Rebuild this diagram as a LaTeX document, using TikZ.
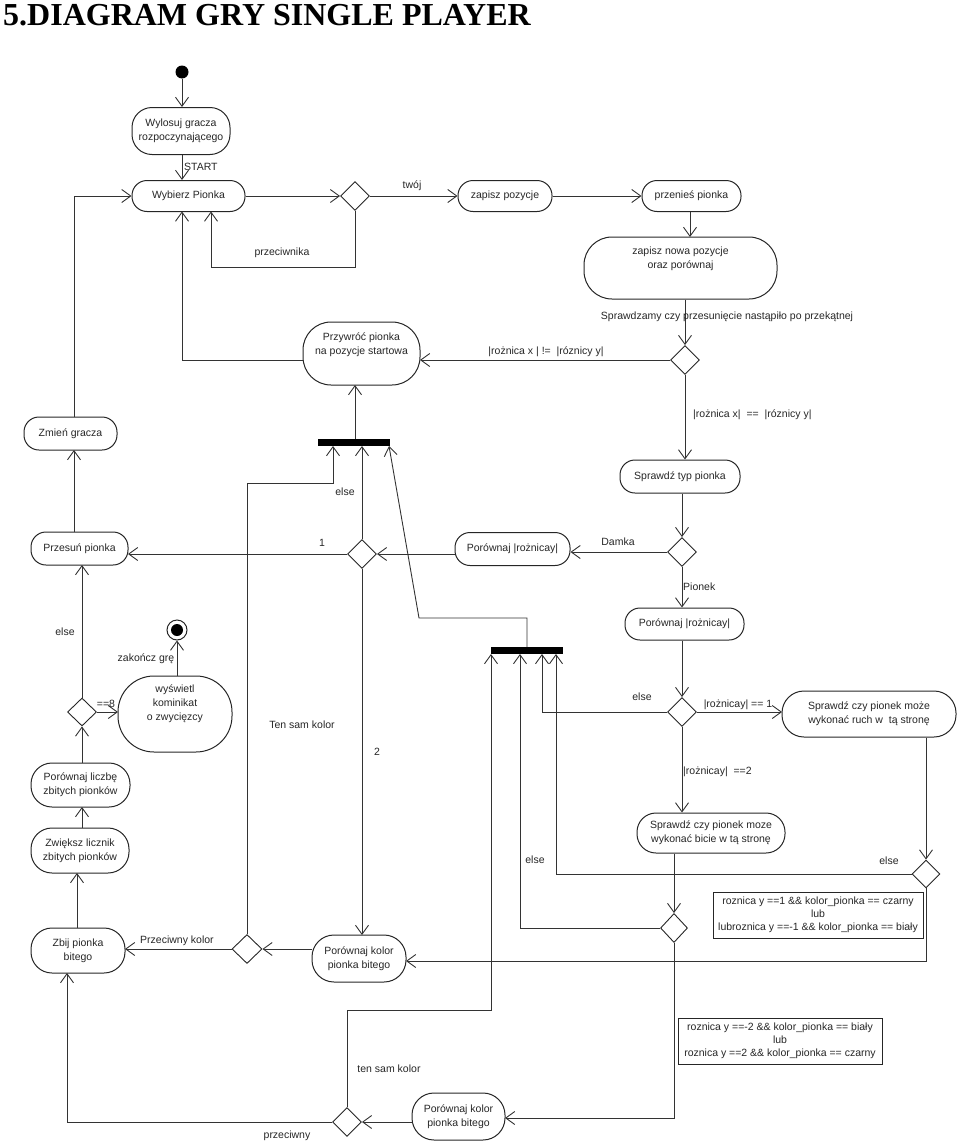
\documentclass[tikz,border=0pt]{standalone}
\usepackage{fontspec}
\setmainfont{Liberation Sans}
\newfontfamily\titlefont{Liberation Serif}
\usetikzlibrary{arrows.meta,shapes.geometric}
\begin{document}
\begin{tikzpicture}[x=1pt,y=-1pt,
  every node/.style={font=\fontsize{10.5}{14}\selectfont, text=black!85},
  act/.style={draw=black!85, line width=1pt, rounded corners=#1, inner sep=0pt, align=center},
  act/.default=15pt,
  dec/.style={draw=black!85, line width=0.9pt, diamond, inner sep=0pt, minimum width=29pt, minimum height=29pt},
  syncbar/.style={fill=black, draw=none, minimum width=72pt, minimum height=7pt, inner sep=0pt},
  lbl/.style={inner sep=1pt},
  note/.style={draw=black!85, line width=0.8pt, inner sep=1pt, align=center, font=\fontsize{10.5}{13}\selectfont},
  flow/.style={draw=black!80, line width=0.9pt},
  arr/.style={flow, -{Straight Barb[length=9pt,width=13pt]}},
]
\useasboundingbox (0,0) rectangle (960,1143);

% title
\node[anchor=base west, inner sep=0pt, text=black, font=\titlefont\bfseries\fontsize{32}{36}\selectfont] (title) at (3,25) {5.DIAGRAM GRY SINGLE PLAYER};

% activity nodes
\node[circle, fill=black, minimum size=13pt, inner sep=0pt] (start) at (182,72) {};
\node[act, minimum width=98pt, minimum height=47pt, act=20pt] (wylosuj) at (181,131) {Wylosuj gracza\\rozpoczynającego};
\node[act, minimum width=113pt, minimum height=31pt] (wybierz) at (188.5,196) {Wybierz Pionka};
\node[dec] (d1) at (355,196) {};
\node[act, minimum width=94pt, minimum height=31pt] (zapisz) at (505,196) {zapisz pozycje};
\node[act, minimum width=99pt, minimum height=31pt] (przenies) at (691.5,196) {przenieś pionka};
\node[act=28pt, minimum width=193pt, minimum height=62pt] (zapnow) at (680.5,268) {zapisz nowa pozycje\\oraz porównaj\\[6pt]};
\node[dec] (d2) at (685,360) {};
\node[act=28pt, minimum width=117pt, minimum height=63pt] (przywroc) at (361.5,353.5) {Przywróć pionka\\na pozycje startowa\\[6pt]};
\node[act, minimum width=120pt, minimum height=33pt] (typ) at (680,476.5) {Sprawdź typ pionka};
\node[dec] (d3) at (682,552) {};
\node[act, minimum width=115pt, minimum height=33pt] (por1) at (512.5,549) {Porównaj |rożnicay|};
\node[dec] (d4) at (362,554) {};
\node[syncbar] (bar1) at (354,442.5) {};
\node[act, minimum width=119pt, minimum height=32pt] (por2) at (684.5,624) {Porównaj |rożnicay|};
\node[dec] (d5) at (682,712) {};
\node[act=22pt, minimum width=174pt, minimum height=46pt] (ruch) at (869,714) {Sprawdź czy pionek może\\wykonać ruch w\ \ tą stronę};
\node[act=19pt, minimum width=148pt, minimum height=40pt] (bicie) at (711,833) {Sprawdź czy pionek moze\\wykonać bicie w tą stronę};
\node[dec, minimum width=28pt, minimum height=28pt] (d6) at (926,874) {};
\node[dec, minimum width=27pt] (d7) at (674,928) {};
\node[syncbar] (bar2) at (527,650.5) {};
\node[act=22pt, minimum width=94pt, minimum height=47pt] (porkol1) at (359,958.5) {Porównaj kolor\\pionka bitego};
\node[dec, minimum width=30pt] (d8) at (247,949) {};
\node[act=21pt, minimum width=94pt, minimum height=45pt] (zbij) at (78,950.5) {Zbij pionka\\bitego};
\node[act=21pt, minimum width=98pt, minimum height=45pt] (zwieksz) at (80,850.5) {Zwiększ licznik\\zbitych pionków};
\node[act=21pt, minimum width=99pt, minimum height=44pt] (porlicz) at (80.5,785) {Porównaj liczbę\\zbitych pionków};
\node[dec, minimum height=28pt] (d9) at (82,712) {};
\node[act=36pt, minimum width=114pt, minimum height=76pt] (wyswietl) at (175,714) {wyświetl\\kominikat\\o zwycięzcy\\[8pt]};
\node[circle, draw=black!85, line width=1pt, minimum size=20pt, inner sep=0pt] (final) at (177,630) {};
\node[circle, fill=black, minimum size=12pt, inner sep=0pt] (finaldot) at (177,630) {};
\node[act, minimum width=97pt, minimum height=33pt] (przesun) at (79.5,548.5) {Przesuń pionka};
\node[act, minimum width=93pt, minimum height=33pt] (zmien) at (70.5,433.5) {Zmień gracza};
\node[act=22pt, minimum width=93pt, minimum height=47pt] (porkol2) at (458.5,1116.5) {Porównaj kolor\\pionka bitego};
\node[dec] (d10) at (347,1122) {};

% notes
\node[note, minimum width=210pt, minimum height=46pt] (note1) at (818,915) {roznica y ==1 \&\& kolor\_pionka == czarny\\lub\\lubroznica y ==-1 \&\& kolor\_pionka == biały};
\node[note, minimum width=204pt, minimum height=46pt] (note2) at (780,1041) {roznica y ==-2 \&\& kolor\_pionka == biały\\lub\\roznica y ==2 \&\& kolor\_pionka == czarny};

% connectors
\draw[arr] (start) -- (start |- wylosuj.north);
\draw[arr] (start |- wylosuj.south) -- (start |- wybierz.north);
\draw[arr] (wybierz.east) -- (d1.west);
\draw[arr] (d1.east) -- (zapisz.west);
\draw[arr] (zapisz.east) -- (przenies.west);
\draw[arr] (690,211.5) -- (690,237);
\draw[arr] (d2.north |- zapnow.south) -- (d2.north);
\draw[arr] (d2.west) -- (420,360);
\draw[arr] (303,360) -- (182,360) -- (182,211.5);
\draw[arr] (d1.south) -- (355,267) -- (211,267) -- (211,211.5);
\draw[arr] (d2.south) -- (d2.south |- typ.north);
\draw[arr] (d3.north |- typ.south) -- (d3.north);
\draw[arr] (d3.west) -- (d3.west -| por1.east);
\draw[arr] (455,554) -- (d4.east);
\draw[arr] (d4.west) -- (128,554);
\draw[arr] (d4.north) -- (362,446);
\draw[arr] (d4.south) -- (362,935);
\draw[arr] (355,439) -- (355,385);
\draw[arr] (d8.north) -- (247,483) -- (333,483) -- (333,446);
\draw[arr] (527,647) -- (527,618) -- (419,618) -- (389,446);
\draw[arr] (d3.south) -- (d3.south |- por2.north);
\draw[arr] (d5.north |- por2.south) -- (d5.north);
\draw[arr] (d5.east) -- (782,712);
\draw[arr] (d5.south) -- (d5.south |- bicie.north);
\draw[arr] (d5.west) -- (542,712) -- (542,654);
\draw[arr] (d6.north |- ruch.south) -- (d6.north);
\draw[arr] (d6.west) -- (556,874) -- (556,654);
\draw[arr] (d6.south) -- (926,961) -- (406,961);
\draw[arr] (d7.north |- bicie.south) -- (d7.north);
\draw[arr] (d7.west) -- (520,928) -- (520,654);
\draw[arr] (d7.south) -- (674,1118) -- (505,1118);
\draw[arr] (porkol2.west |- d10.east) -- (d10.east);
\draw[arr] (d10.north) -- (347,1010) -- (491,1010) -- (491,654);
\draw[arr] (d10.west) -- (67,1122) -- (67,973);
\draw[arr] (312,949) -- (d8.east);
\draw[arr] (d8.west) -- (125,949);
\draw[arr] (77,928) -- (77,873);
\draw[arr] (82,828) -- (82,807);
\draw[arr] (82,763) -- (d9.south);
\draw[arr] (d9.east) -- (118,712);
\draw[arr] (177,676) -- (final.south);
\draw[arr] (d9.north) -- (82,565);
\draw[arr] (74,532) -- (74,450);
\draw[arr] (74,417) -- (74,196) -- (wybierz.west);

% connector labels
\node[lbl, anchor=west] (lstart) at (183,167) {START};
\node[lbl] (ltwoj) at (412,186) {twój};
\node[lbl] (lprzec) at (282,253) {przeciwnika};
\node[lbl] (lspr) at (727,317) {Sprawdzamy czy przesunięcie nastąpiło po przekątnej};
\node[lbl] (lneq) at (546,352) {|rożnica x | !=\ \ |róznicy y|};
\node[lbl, anchor=west] (leq) at (692,415) {|rożnica x|\ \ ==\ \ |róznicy y|};
\node[lbl] (ldamka) at (618,542) {Damka};
\node[lbl] (lone) at (322,543) {1};
\node[lbl] (lelse1) at (345,492) {else};
\node[lbl] (ltwo) at (377,752) {2};
\node[lbl] (lten1) at (302,725) {Ten sam kolor};
\node[lbl, anchor=west] (lpionek) at (682,587) {Pionek};
\node[lbl] (lr1) at (738,705) {|rożnicay| == 1};
\node[lbl] (lelse2) at (642,697) {else};
\node[lbl, anchor=west] (lr2) at (682,772) {|rożnicay|\ \ ==2};
\node[lbl] (lelse3) at (889,861) {else};
\node[lbl] (lelse4) at (535,860) {else};
\node[lbl] (lten2) at (389,1069) {ten sam kolor};
\node[lbl] (lprzeciwny) at (287,1136) {przeciwny};
\node[lbl] (lprzkol) at (177,941) {Przeciwny kolor};
\node[lbl] (leight) at (106,704) {==8};
\node[lbl] (lzak) at (146,659) {zakończ grę};
\node[lbl] (lelse5) at (65,632) {else};
\end{tikzpicture}
\end{document}
